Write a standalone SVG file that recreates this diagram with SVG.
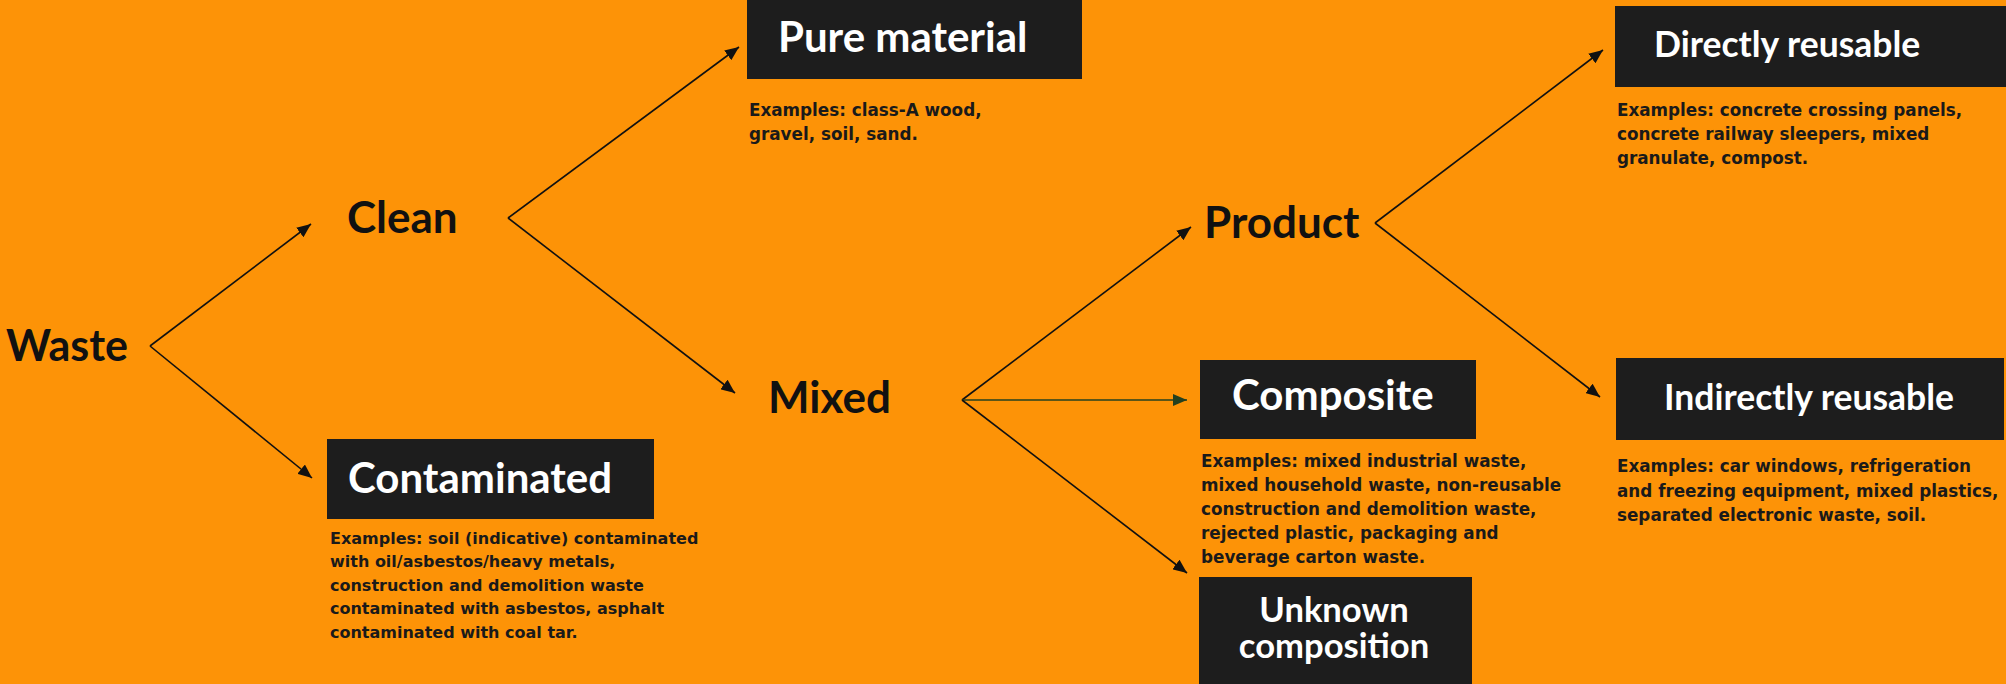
<svg xmlns="http://www.w3.org/2000/svg" width="2006" height="684" viewBox="0 0 2006 684">
<style>
.lbl{font-family:Lato,"Noto Sans","Liberation Sans",sans-serif;font-weight:700;fill:#111;font-size:44px}
.box{fill:#1d1d1d}
.ttl{font-family:Lato,"Noto Sans","Liberation Sans",sans-serif;font-weight:700;fill:#fff}
.big{font-size:42px}
.mid{font-size:35.5px}
.sm{font-size:34.6px}
.ex{font-family:"DejaVu Sans","Open Sans",sans-serif;font-weight:700;fill:#1a1a1a;font-size:16.8px}
.exs{font-size:16px}
.ln{stroke:#111;stroke-width:1.6;fill:none}
.lng{stroke:#24401f;stroke-width:1.6;fill:none}
</style>
<defs>
<marker id="ah" markerUnits="userSpaceOnUse" markerWidth="16" markerHeight="12" refX="14" refY="6" orient="auto">
<path d="M0,0 L14,6 L0,12 Z" fill="#111"/>
</marker>
<marker id="ahg" markerUnits="userSpaceOnUse" markerWidth="16" markerHeight="12" refX="14" refY="6" orient="auto">
<path d="M0,0 L14,6 L0,12 Z" fill="#24401f"/>
</marker>
</defs>
<rect width="2006" height="684" fill="#fd9307"/>
<g id="connectors">
<path class="ln" d="M150,346 L311,224" marker-end="url(#ah)"/>
<path class="ln" d="M150,346 L312,478" marker-end="url(#ah)"/>
<path class="ln" d="M508,218 L739,47" marker-end="url(#ah)"/>
<path class="ln" d="M508,218 L735,393" marker-end="url(#ah)"/>
<path class="ln" d="M962,400 L1191,227" marker-end="url(#ah)"/>
<path class="lng" d="M962,400 L1187,400" marker-end="url(#ahg)"/>
<path class="ln" d="M962,400 L1187,573" marker-end="url(#ah)"/>
<path class="ln" d="M1375,223 L1603,50" marker-end="url(#ah)"/>
<path class="ln" d="M1375,223 L1600,397" marker-end="url(#ah)"/>
</g>
<g id="waste"><text class="lbl" x="6" y="361" style="font-size:43px">Waste</text></g>
<g id="clean"><text class="lbl" x="347" y="233">Clean</text></g>
<g id="mixed"><text class="lbl" x="768" y="413">Mixed</text></g>
<g id="product"><text class="lbl" x="1204" y="238">Product</text></g>
<g id="pure-material">
<rect class="box" x="747" y="0" width="335" height="79"/>
<text class="ttl big" x="778" y="52">Pure material</text>
<text class="ex" x="749" y="116">Examples: class-A wood,</text>
<text class="ex" x="749" y="140">gravel, soil, sand.</text>
</g>
<g id="contaminated">
<rect class="box" x="327" y="439" width="327" height="80"/>
<text class="ttl big" x="348" y="493">Contaminated</text>
<text class="ex exs" x="330" y="544">Examples: soil (indicative) contaminated</text>
<text class="ex exs" x="330" y="567">with oil/asbestos/heavy metals,</text>
<text class="ex exs" x="330" y="591">construction and demolition waste</text>
<text class="ex exs" x="330" y="614">contaminated with asbestos, asphalt</text>
<text class="ex exs" x="330" y="638">contaminated with coal tar.</text>
</g>
<g id="composite">
<rect class="box" x="1200" y="360" width="276" height="79"/>
<text class="ttl big" x="1232" y="410">Composite</text>
<text class="ex" x="1201" y="467">Examples: mixed industrial waste,</text>
<text class="ex" x="1201" y="491">mixed household waste, non-reusable</text>
<text class="ex" x="1201" y="515">construction and demolition waste,</text>
<text class="ex" x="1201" y="539">rejected plastic, packaging and</text>
<text class="ex" x="1201" y="563">beverage carton waste.</text>
</g>
<g id="unknown-composition">
<rect class="box" x="1199" y="577" width="273" height="107"/>
<text class="ttl sm" text-anchor="middle"><tspan x="1334" y="622">Unknown</tspan><tspan x="1334" y="658">composition</tspan></text>
</g>
<g id="directly-reusable">
<rect class="box" x="1615" y="6" width="391" height="81"/>
<text class="ttl mid" x="1654" y="57">Directly reusable</text>
<text class="ex" x="1617" y="116">Examples: concrete crossing panels,</text>
<text class="ex" x="1617" y="140">concrete railway sleepers, mixed</text>
<text class="ex" x="1617" y="164">granulate, compost.</text>
</g>
<g id="indirectly-reusable">
<rect class="box" x="1616" y="358" width="388" height="82"/>
<text class="ttl mid" x="1664" y="410">Indirectly reusable</text>
<text class="ex" x="1617" y="472">Examples: car windows, refrigeration</text>
<text class="ex" x="1617" y="497">and freezing equipment, mixed plastics,</text>
<text class="ex" x="1617" y="521">separated electronic waste, soil.</text>
</g>
</svg>
